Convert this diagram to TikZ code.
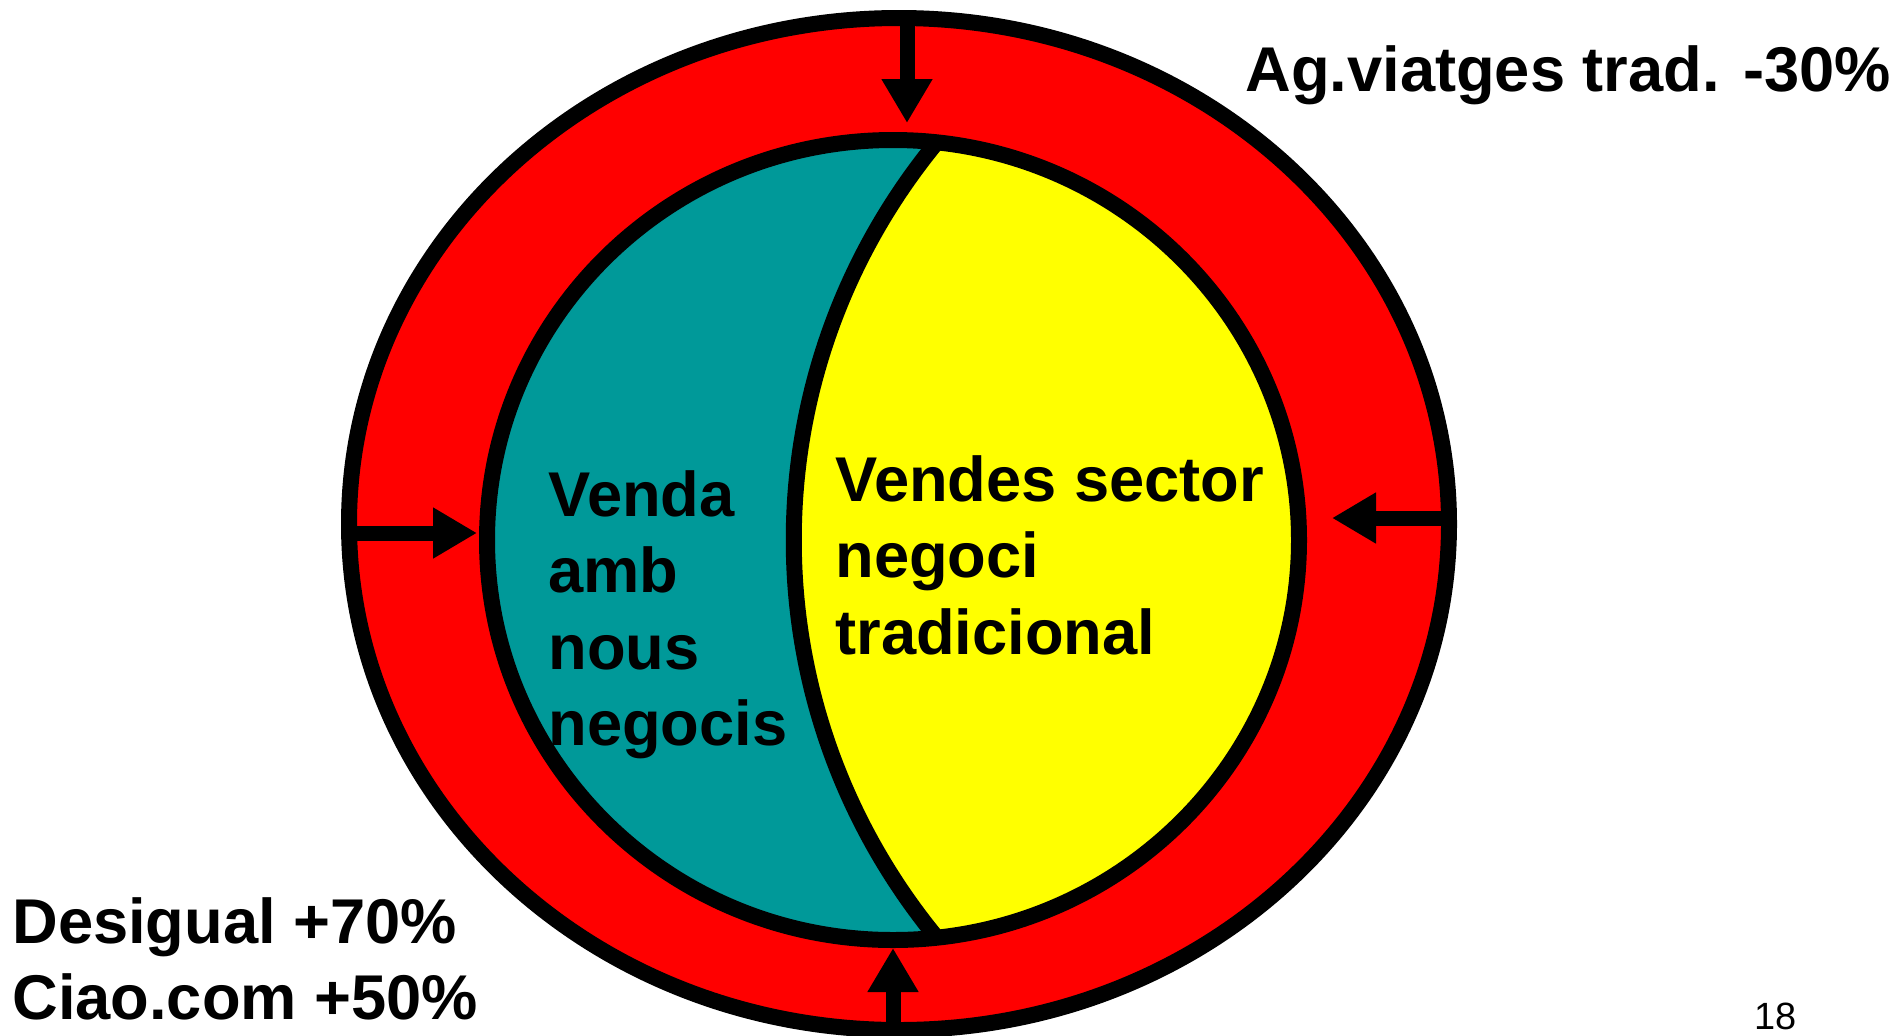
\documentclass[tikz,border=0pt]{standalone}
\usepackage{fontspec}
\setmainfont{Liberation Sans}
\usetikzlibrary{arrows.meta}
\definecolor{ringred}{RGB}{255,0,0}
\definecolor{coreyellow}{RGB}{255,255,0}
\definecolor{newteal}{RGB}{0,153,153}
\tikzset{ring/.style = {draw, fill=ringred, line width=0.32cm}}
\tikzset{core/.style = {fill=coreyellow}}
\tikzset{edgeline/.style = {draw, line width=0.32cm}}
\tikzset{push/.style = {-{Triangle[length=0.88cm, width=0.96cm]}, line width=0.3cm}}
\tikzset{tag/.style = {anchor=north west, inner sep=0pt, align=left, font=\bfseries\fontsize{36}{43.5}\selectfont}}

\begin{document}
\begin{tikzpicture}[x=0.02cm, y=-0.02cm]
  \path[use as bounding box, clip] (0,0) rectangle (1899,1035);

  \draw[ring] (899,524) ellipse [x radius=550, y radius=506];
  \fill[core] (893,540) ellipse [x radius=406, y radius=400];
  \begin{scope}
    \clip (893,540) ellipse [x radius=406, y radius=400];
    \fill[newteal] (937,142) .. controls (746,374) and (746,706) .. (937,938) -- (400,938) -- (400,142) -- cycle;
  \end{scope}
  \draw[edgeline] (893,540) ellipse [x radius=406, y radius=400];
  \draw[edgeline] (937,142) .. controls (746,374) and (746,706) .. (937,938);

  \coordinate (outN) at (907,18);
  \coordinate (inN) at (907,123);
  \coordinate (outW) at (349,533);
  \coordinate (inW) at (477,533);
  \coordinate (outE) at (1447,518);
  \coordinate (inE) at (1332,518);
  \coordinate (outS) at (893,1030);
  \coordinate (inS) at (893,948);

  \draw[push] (outN) -- (inN);
  \draw[push] (outW) -- (inW);
  \draw[push] (outE) -- (inE);
  \draw[push] (outS) -- (inS);

  \node[tag] (venda) at (548,470) {Venda\\amb\\nous\\negocis};
  \node[tag] (vendes) at (835,455) {Vendes sector\\negoci\\tradicional};
  \node[tag] (agencia) at (1245,45) {Ag.viatges trad. -30\%};
  \node[tag] (pujades) at (12,897) {Desigual +70\%\\Ciao.com +50\%};
  \node[anchor=north west, inner sep=0pt, font=\fontsize{21.6}{26}\selectfont] (pagina) at (1754,1003) {18};
\end{tikzpicture}
\end{document}
